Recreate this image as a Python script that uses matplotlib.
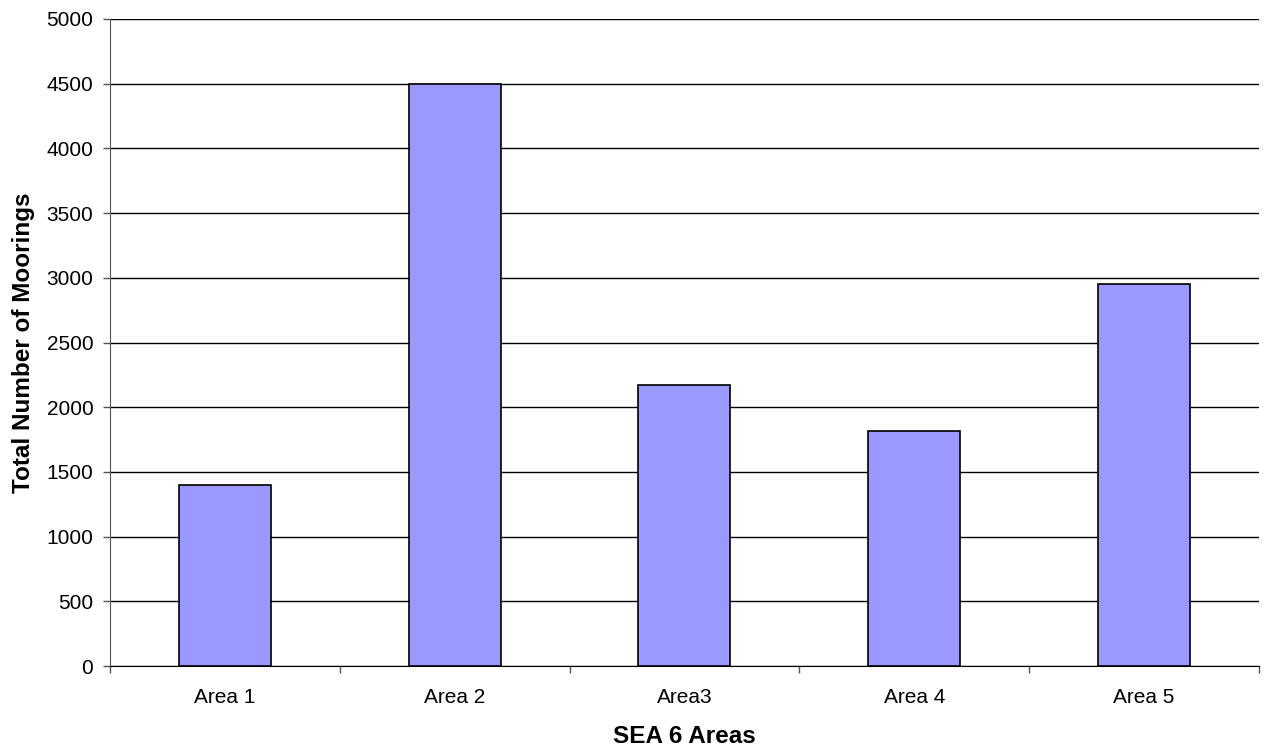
import matplotlib.pyplot as plt
import numpy as np

plt.rcParams['font.family'] = ['Liberation Sans', 'DejaVu Sans']

# values
areas = ["Area 1", "Area 2", "Area3", "Area 4", "Area 5"]
moorings = [1400, 4500, 2175, 1820, 2950]
y_ticks = np.arange(0, 5001, 500)

fig = plt.figure(figsize=(12.64, 7.48), dpi=100)
ax = fig.add_axes([0.087, 0.1096, 0.909, 0.865])

pos = np.arange(len(areas))
ax.bar(pos, moorings, width=0.4, color="#9999FF", edgecolor="black", linewidth=1.2, zorder=3)

ax.set_xlim(-0.5, len(areas) - 0.5)
ax.set_ylim(0, 5000)
ax.set_yticks(y_ticks)
ax.set_xticks(pos)
ax.set_xticklabels(areas, fontsize=15)
ax.tick_params(axis='y', labelsize=15, length=5, width=1, color="#555555", pad=7)
ax.tick_params(axis='x', length=0, pad=16)
# category separators on the x axis
ax.set_xticks(np.arange(-0.5, len(areas)), minor=True)
ax.tick_params(axis='x', which='minor', length=5, width=1, color="#555555")

ax.yaxis.grid(True, color="black", linewidth=1, zorder=0)
for s in ["top", "right"]:
    ax.spines[s].set_visible(False)
ax.spines["left"].set_color("#555555")
ax.spines["bottom"].set_color("black")

ax.set_ylabel("Total Number of Moorings", fontsize=17.5, fontweight="bold", labelpad=8)
ax.set_xlabel("SEA 6 Areas", fontsize=17.5, fontweight="bold", labelpad=13)

fig.savefig("out.png", dpi=100)
